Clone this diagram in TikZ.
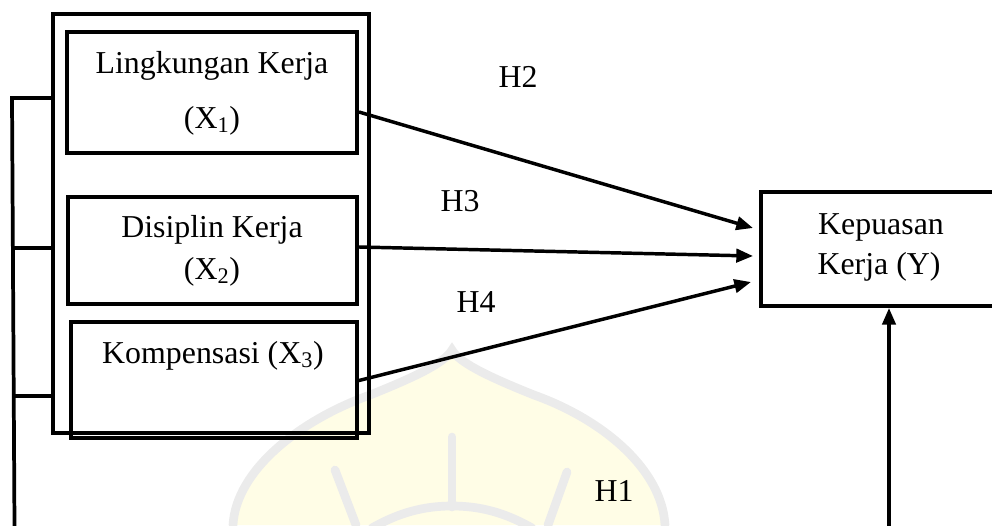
\documentclass[tikz,border=0pt]{standalone}
\usepackage{fontspec}
\setmainfont{Liberation Serif}
\usetikzlibrary{arrows.meta,calc}
\definecolor{wmyellow}{HTML}{FFFDE6}
\definecolor{wmgray}{HTML}{EBEBEB}
\begin{document}
\begin{tikzpicture}[x=0.75pt,y=-0.75pt,
  box/.style={draw=black, line width=3pt, inner sep=0pt, rectangle},
  txt/.style={font=\fontsize{23.9}{28}\selectfont, anchor=base, inner sep=0pt},
  link/.style={line width=2.8pt},
  arr/.style={line width=2.6pt, -{Triangle[length=12.5pt,width=10pt]}},
  wm/.style={draw=wmgray, line width=6.5pt, line cap=round}
]
\useasboundingbox (0,0) rectangle (992,525);
\clip (0,0) rectangle (992,525);
% faint watermark
\fill[wmyellow] (233,525) .. controls (236,470) and (300,420) .. (370,395)
  .. controls (420,375) and (445,362) .. (452,350)
  .. controls (459,362) and (484,375) .. (534,395)
  .. controls (604,420) and (662,470) .. (665,525) -- cycle;
\draw[wm] (233,525) .. controls (236,470) and (300,420) .. (370,395)
  .. controls (420,375) and (445,362) .. (452,350)
  .. controls (459,362) and (484,375) .. (534,395)
  .. controls (604,420) and (662,470) .. (665,525);
\draw[wm] (452,437) -- (452,507);
\draw[wm] (335,470) -- (356,525);
\draw[wm] (567,472) -- (548,525);
\draw[wm] (372,528) .. controls (400,512) and (425,506) .. (452,506)
  .. controls (479,506) and (504,512) .. (532,528);
% boxes
\node[box, minimum width=316*0.75pt, minimum height=419*0.75pt] (outer) at (211,223.5) {};
\node[box, fill=white, minimum width=290*0.75pt, minimum height=121*0.75pt] (b1) at (212,92.5) {};
\node[box, fill=white, minimum width=289*0.75pt, minimum height=107*0.75pt] (b2) at (212.5,250.5) {};
\node[box, minimum width=286*0.75pt, minimum height=116*0.75pt] (b3) at (214,380) {};
\node[box, fill=white, minimum width=240*0.75pt, minimum height=114*0.75pt] (Y) at (881,249) {};
% texts
\node[txt] (t1a) at (212,73) {Lingkungan Kerja};
\node[txt] (t1b) at (212,128) {(X\textsubscript{1})};
\node[txt] (t2a) at (212,237.5) {Disiplin Kerja};
\node[txt] (t2b) at (212,279) {(X\textsubscript{2})};
\node[txt] (t3) at (213,363) {Kompensasi (X\textsubscript{3})};
\node[txt] (ty1) at (881,234) {Kepuasan};
\node[txt] (ty2) at (879,274) {Kerja (Y)};
\node[txt] (h2) at (518,87) {H2};
\node[txt] (h3) at (460,211) {H3};
\node[txt] (h4) at (476,312) {H4};
\node[txt] (h1) at (614,501) {H1};
% arrows
\draw[arr] ($(b1.east)+(0,19.5)$) -- ($(Y.west)+(-6,-21)$);
\draw[arr] ($(b2.east)+(0,-3.5)$) -- ($(Y.west)+(-6,7)$);
\draw[arr] ($(b3.east)+(-2,1)$) -- ($(Y.west)+(-8,33)$);
\coordinate (yb) at (889,526);
\draw[arr] (yb) -- (yb |- Y.south);
% left bracket
\coordinate (lt) at (12,98);
\coordinate (lbot) at (14.5,526);
\coordinate (m1) at (13,248);
\coordinate (m2) at (13.7,396);
\draw[link] (outer.west |- lt) -- (lt) -- (lbot);
\draw[link] (m1) -- (m1 -| outer.west);
\draw[link] (m2) -- (m2 -| outer.west);
\end{tikzpicture}
\end{document}
